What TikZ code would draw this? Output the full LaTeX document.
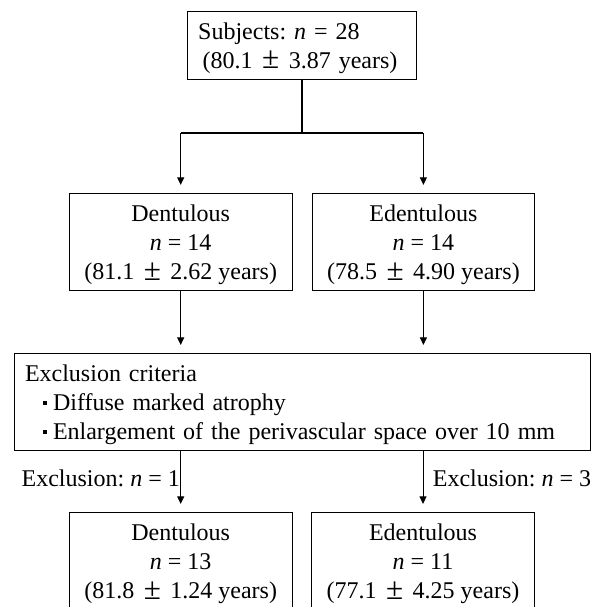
\documentclass[tikz,border=0pt]{standalone}
\usepackage{fontspec}
\setmainfont{Liberation Serif}
\usetikzlibrary{arrows.meta}
\frenchspacing
\newcommand{\lstrut}{\rule{0pt}{22.5pt}}
\newcommand{\sqbullet}{\rule[5.5pt]{3.5pt}{3.5pt}\hspace{6.5pt}}
\newcommand{\pmgap}{\hspace{9.5pt}\raisebox{-0.5pt}{\scalebox{1.3}{±}}\hspace{9.5pt}}

\begin{document}
\begin{tikzpicture}[x=1pt, y=-1pt,
    box/.style={draw, line width=0.8pt, inner sep=0pt, align=center, font=\fontsize{24}{29}\selectfont},
    lbl/.style={font=\fontsize{24}{29}\selectfont, inner sep=0.5pt},
    flow/.style={-{Triangle[width=7pt,length=7.5pt]}, line width=0.8pt, shorten >=8pt},
    trunk/.style={line width=2pt}]
    \useasboundingbox (0,0) rectangle (598,607);

    % 全体
    \node[box, align=left, text width=208pt, minimum width=229pt, minimum height=68pt] (subj) at (302.2,45)
        {\lstrut Subjects: \textit{n} = 28\\\hspace{4.5pt}(80.1\pmgap 3.87 years)};

    % 分组
    \node[box, minimum width=222.7pt, minimum height=97.4pt] (dent) at (180.7,242)
        {\lstrut Dentulous\\\textit{n} = 14\\(81.1\pmgap 2.62 years)};
    \node[box, minimum width=221.3pt, minimum height=97.4pt] (edent) at (423.4,242)
        {\lstrut Edentulous\\\textit{n} = 14\\(78.5\pmgap 4.90 years)};

    % 排除标准
    \node[box, align=left, text width=554pt, minimum width=576pt, minimum height=96.7pt] (excl) at (302,401.7)
        {\lstrut Exclusion criteria\\\hspace{18pt}\sqbullet Diffuse marked atrophy\\\hspace{18pt}\sqbullet Enlargement of the perivascular space over 10 mm};

    % 最终分组
    \node[box, minimum width=222.7pt, minimum height=97.4pt] (dent2) at (180.7,561)
        {\lstrut Dentulous\\\textit{n} = 13\\(81.8\pmgap 1.24 years)};
    \node[box, minimum width=222.7pt, minimum height=97.4pt] (edent2) at (423,561)
        {\lstrut Edentulous\\\textit{n} = 11\\(77.1\pmgap 4.25 years)};

    % 连线
    \coordinate (split) at (302.2,133);
    \coordinate (lft) at (dent |- split);
    \coordinate (rgt) at (edent |- split);
    \draw[trunk] (subj.south) -- (split);
    \draw[trunk] (lft) -- (rgt);
    \draw[flow] (lft) -- (dent.north);
    \draw[flow] (rgt) -- (edent.north);
    \draw[flow] (dent.south) -- (dent.south |- excl.north);
    \draw[flow] (edent.south) -- (edent.south |- excl.north);
    \draw[flow] (excl.south -| dent2.north) -- (dent2.north)
        node[lbl, midway, left, yshift=2.5pt] {Exclusion: \textit{n} = 1};
    \draw[flow] (excl.south -| edent2.north) -- (edent2.north)
        node[lbl, midway, right, xshift=9pt, yshift=2.5pt] {Exclusion: \textit{n} = 3};
\end{tikzpicture}
\end{document}
